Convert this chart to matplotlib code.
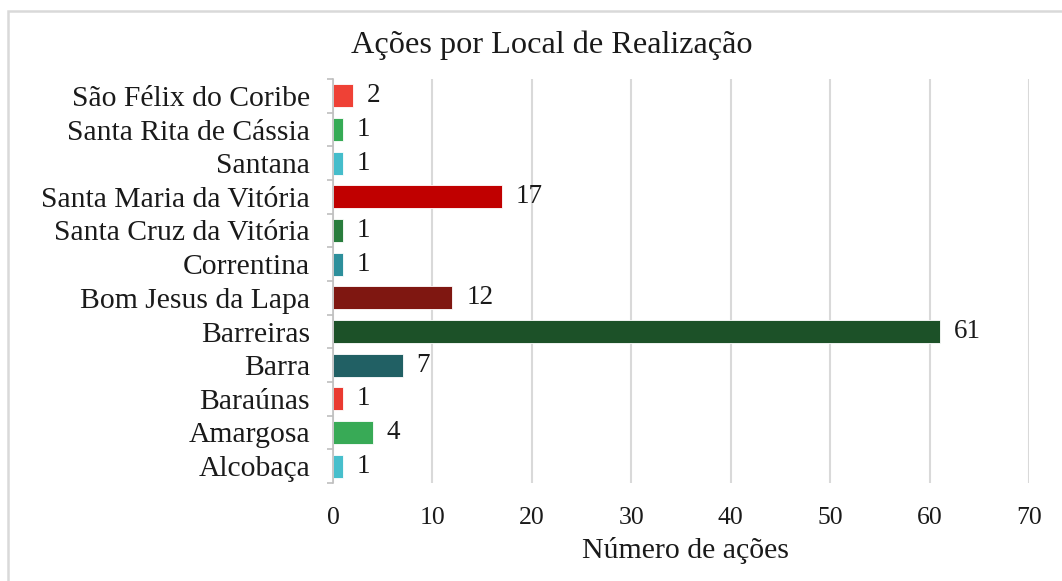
import matplotlib.pyplot as plt
from matplotlib.patches import Rectangle
import numpy as np

# dados (de cima para baixo)
locais = ["São Félix do Coribe", "Santa Rita de Cássia", "Santana",
          "Santa Maria da Vitória", "Santa Cruz da Vitória", "Correntina",
          "Bom Jesus da Lapa", "Barreiras", "Barra", "Baraúnas",
          "Amargosa", "Alcobaça"]
acoes = [2, 1, 1, 17, 1, 1, 12, 61, 7, 1, 4, 1]
cores = ["#ef4136", "#36ab55", "#45bdcb", "#c00000", "#297d3d", "#2d8f9b",
         "#7f1711", "#1c5128", "#216064", "#ea3a30", "#38aa56", "#47bfcc"]
xticks = [0, 10, 20, 30, 40, 50, 60, 70]

plt.rcParams['font.family'] = ['Liberation Serif', 'DejaVu Serif']

fig = plt.figure(figsize=(10.62, 5.81), dpi=100)
ax = fig.add_axes([333/1062, 1-483/581, (1029-333)/1062, (483-79)/581])

y = np.arange(len(locais))
ax.barh(y, acoes, height=0.68, color=cores, edgecolor='white', linewidth=0.6, zorder=3)

for yi, v in zip(y, acoes):
    ax.annotate(str(v), (v, yi), xytext=(10, 0), textcoords='offset points',
                va='center', ha='left', fontsize=19.5, color='#1a1a1a')

ax.set_xlim(0, 70)
ax.set_ylim(len(locais) - 0.5, -0.5)
ax.set_xticks(xticks)
ax.set_yticks(y)
ax.set_yticklabels(locais, fontsize=21.3, color='#1a1a1a')
ax.set_yticks(np.arange(-0.5, len(locais), 1), minor=True)
ax.tick_params(axis='y', which='major', length=0, pad=16.5)
ax.tick_params(axis='y', which='minor', length=4, color='#bfbfbf', width=1.2)
ax.tick_params(axis='x', length=0, pad=17.5, labelsize=18.5, labelcolor='#1a1a1a')

ax.grid(axis='x', color='#d9d9d9', linewidth=1.5, zorder=0)
for s in ['top', 'right', 'bottom']:
    ax.spines[s].set_visible(False)
ax.spines['left'].set_color('#bfbfbf')
ax.spines['left'].set_linewidth(1.2)
ax.spines['left'].set_zorder(4)

fig.text(552/1062, 1-45/581, "Ações por Local de Realização", ha='center', va='center',
         fontsize=23.2, color='#1a1a1a')
fig.text(686/1062, 1-551/581, "Número de ações", ha='center', va='center',
         fontsize=21.5, color='#1a1a1a')

# moldura da área do gráfico
fig.add_artist(Rectangle((8/1062, -0.2), 1.5, 1.2 - 11/581, transform=fig.transFigure,
                         fill=False, edgecolor='#d9d9d9', linewidth=1.8))

fig.savefig("out.png", dpi=100)
